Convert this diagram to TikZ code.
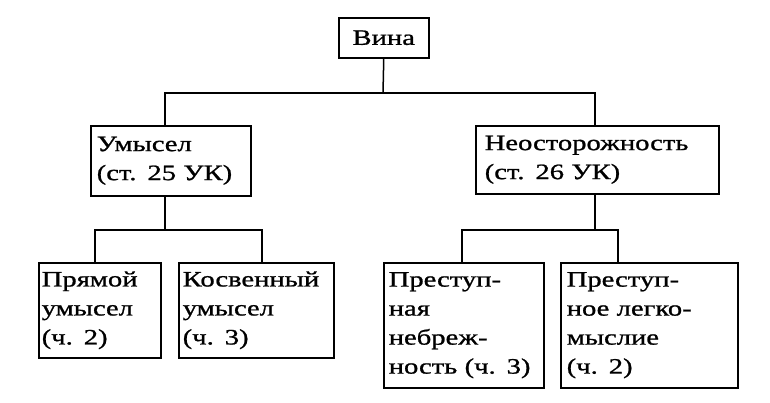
\documentclass[tikz,border=0pt]{standalone}
\usepackage{fontspec}
\setmainfont{Liberation Serif}[FakeStretch=1.3,FakeBold=1]
\begin{document}
\begin{tikzpicture}[x=1pt,y=-1pt,
  bx/.style={draw,line width=1.5pt,anchor=north west,align=left,inner sep=0pt,font=\fontsize{22}{29}\selectfont},
  ln/.style={line width=1.5pt}]
\useasboundingbox (0,0) rectangle (770,402);
\node[bx,minimum width=90pt,minimum height=40pt,align=center] (v) at (338,17) {Вина};
\node[bx,minimum width=160pt,minimum height=70pt,text width=148pt] (u) at (90,125) {Умысел\\(ст. 25 УК)};
\node[bx,minimum width=243pt,minimum height=68pt,text width=225pt] (n) at (475,125) {Неосторожность\\(ст. 26 УК)};
\node[bx,minimum width=122pt,minimum height=95pt,text width=116pt] (p) at (38,262) {Прямой\\умысел\\(ч. 2)};
\node[bx,minimum width=155pt,minimum height=95pt,text width=147pt] (k) at (178,262) {Косвенный\\умысел\\(ч. 3)};
\node[bx,minimum width=160pt,minimum height=125pt,text width=150pt] (pn) at (383,262) {Преступ-\\ная\\небреж-\\ность (ч. 3)};
\node[bx,minimum width=177pt,minimum height=125pt,text width=165pt] (pl) at (560,262) {Преступ-\\ное легко-\\мыслие\\(ч. 2)};
\coordinate (h1) at (165,93); \coordinate (h2) at (595,93);
\draw[ln] (v.south) -- (383,93);
\draw[ln] (u.north -| h1) -- (h1) -- (h2) -- (n.north -| h2);
\draw[ln] (u.south -| h1) -- (165,230);
\draw[ln] (p.north -| 95,0) -- (95,230) -- (262,230) -- (k.north -| 262,0);
\draw[ln] (n.south -| h2) -- (595,230);
\draw[ln] (pn.north -| 462,0) -- (462,230) -- (618,230) -- (pl.north -| 618,0);
\end{tikzpicture}
\end{document}
